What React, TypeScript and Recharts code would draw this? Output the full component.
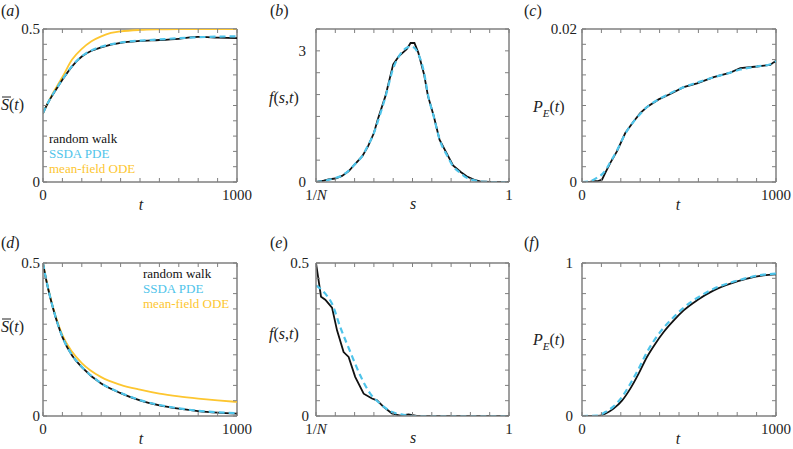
import { LineChart, Line, XAxis, YAxis, ReferenceLine } from 'recharts';

const BLACK = '#111111';
const CYAN = '#4fc4ea';
const GOLD = '#fdc630';
const FRAME = '#7f7f7f';
const SERIF = "Liberation Serif, Tinos, Times New Roman, DejaVu Serif, serif";

// tick positions and labels
const tTicks = [0, 100, 200, 300, 400, 500, 600, 700, 800, 900, 1000];
const tTickLabels = ['0', '', '', '', '', '', '', '', '', '', '1000'];
const sTicks = [0, 0.1, 0.2, 0.3, 0.4, 0.5, 0.6, 0.7, 0.8, 0.9, 1];
const sTickLabels = ['1/N', '', '', '', '', '', '', '', '', '', '1'];
const halfTicks = [0, 0.05, 0.1, 0.15, 0.2, 0.25, 0.3, 0.35, 0.4, 0.45, 0.5];
const halfTickLabels = ['0', '', '', '', '', '', '', '', '', '', '0.5'];
const fbTicks = [0, 0.5, 1, 1.5, 2, 2.5, 3, 3.5];
const fbTickLabels = ['0', '', '', '', '', '', '3', ''];
const pcTicks = [0, 0.002, 0.004, 0.006, 0.008, 0.01, 0.012, 0.014, 0.016, 0.018, 0.02];
const pcTickLabels = ['0', '', '', '', '', '', '', '', '', '', '0.02'];
const oneTicks = [0, 0.1, 0.2, 0.3, 0.4, 0.5, 0.6, 0.7, 0.8, 0.9, 1];
const oneTickLabels = ['0', '', '', '', '', '', '', '', '', '', '1'];

// (a) mean size, growth
const tA = [0, 25, 50, 75, 100, 150, 200, 250, 300, 350, 400, 500, 600, 700, 800, 900, 1000];
const walkA = [0.225, 0.258, 0.285, 0.31, 0.334, 0.378, 0.41, 0.429, 0.44, 0.449, 0.455, 0.461, 0.464, 0.468, 0.474, 0.472, 0.47];
const pdeA = [0.225, 0.258, 0.286, 0.311, 0.335, 0.379, 0.411, 0.43, 0.442, 0.45, 0.456, 0.462, 0.466, 0.47, 0.473, 0.475, 0.476];
const odeA = [0.225, 0.259, 0.289, 0.316, 0.343, 0.4, 0.435, 0.46, 0.476, 0.487, 0.492, 0.497, 0.499, 0.5, 0.5, 0.5, 0.5];

// (b) size distribution
const sB = [0, 0.04, 0.065, 0.1, 0.135, 0.17, 0.2, 0.24, 0.27, 0.3, 0.32, 0.36, 0.4, 0.43, 0.45, 0.47, 0.49, 0.51, 0.53, 0.56, 0.58, 0.61, 0.64, 0.68, 0.71, 0.75, 0.78, 0.82, 0.85, 0.9, 1];
const walkB = [0, 0.03, 0.06, 0.08, 0.14, 0.25, 0.4, 0.59, 0.82, 1.12, 1.43, 1.97, 2.69, 2.88, 2.96, 3.04, 3.18, 3.18, 2.96, 2.46, 1.97, 1.51, 0.97, 0.63, 0.38, 0.23, 0.13, 0.05, 0.015, 0, 0];
const pdeB = [0, 0.02, 0.05, 0.09, 0.15, 0.26, 0.4, 0.6, 0.84, 1.12, 1.38, 1.95, 2.6, 2.88, 3.0, 3.07, 3.1, 3.07, 2.93, 2.5, 2.0, 1.5, 0.98, 0.6, 0.36, 0.2, 0.1, 0.04, 0.01, 0, 0];

// (c) extinction probability
const tC = [0, 40, 60, 80, 103, 120, 146, 180, 223, 266, 300, 335, 395, 455, 524, 593, 679, 765, 816, 902, 971, 985, 1000];
const walkC = [0, 0, 0.0001, 0.0001, 0.0003, 0.0012, 0.0025, 0.004, 0.0064, 0.0079, 0.009, 0.0098, 0.0108, 0.0115, 0.0124, 0.0129, 0.0137, 0.0143, 0.0149, 0.0151, 0.0153, 0.0156, 0.0158];
const pdeC = [0, 0.0001, 0.0003, 0.0006, 0.001, 0.0015, 0.0026, 0.0041, 0.0063, 0.0079, 0.0089, 0.0098, 0.0108, 0.0116, 0.0124, 0.013, 0.0137, 0.0143, 0.0147, 0.0151, 0.0154, 0.0156, 0.0158];

// (d) mean size, decay
const tD = [0, 10, 25, 50, 75, 100, 150, 200, 300, 400, 500, 600, 700, 800, 900, 1000];
const walkD = [0.5, 0.465, 0.42, 0.356, 0.302, 0.258, 0.198, 0.16, 0.106, 0.075, 0.051, 0.035, 0.024, 0.016, 0.011, 0.008];
const pdeD = [0.5, 0.466, 0.421, 0.357, 0.303, 0.259, 0.199, 0.161, 0.107, 0.076, 0.052, 0.036, 0.025, 0.017, 0.012, 0.009];
const odeD = [0.5, 0.466, 0.422, 0.359, 0.307, 0.264, 0.21, 0.173, 0.127, 0.102, 0.086, 0.073, 0.064, 0.057, 0.051, 0.046];

// (e) size distribution, decay
const sEwalk = [0, 0.026, 0.048, 0.083, 0.109, 0.143, 0.169, 0.203, 0.247, 0.29, 0.316, 0.35, 0.393, 0.436, 0.479, 0.522, 1];
const walkE = [0.5, 0.39, 0.38, 0.354, 0.28, 0.209, 0.193, 0.128, 0.073, 0.057, 0.051, 0.03, 0.008, 0.001, 0.005, 0, 0];
const sEpde = [0, 0.048, 0.083, 0.126, 0.178, 0.229, 0.281, 0.333, 0.384, 0.453, 0.52, 1];
const pdeE = [0.427, 0.4, 0.367, 0.29, 0.209, 0.133, 0.073, 0.04, 0.016, 0.004, 0, 0];

// (f) extinction probability, decay
const tF = [0, 77, 120, 163, 206, 249, 292, 335, 378, 421, 473, 524, 593, 679, 765, 851, 936, 1000];
const walkF = [0, 0, 0.015, 0.048, 0.1, 0.179, 0.277, 0.386, 0.473, 0.549, 0.625, 0.69, 0.756, 0.821, 0.865, 0.898, 0.919, 0.926];
const pdeF = [0, 0.002, 0.026, 0.063, 0.124, 0.211, 0.309, 0.418, 0.505, 0.577, 0.647, 0.708, 0.771, 0.832, 0.871, 0.902, 0.924, 0.93];

const zip = (xs: number[], ys: number[]) => xs.map((x, i) => ({ x, y: ys[i] }));

type Series = { data: { x: number; y: number }[]; color: string; dashed?: boolean; smooth?: boolean };

const AX_H = 30; // height reserved for the x axis
const AX_W = 30; // width reserved for the y axis

function labelFor(v: number, ticks: number[], labels: string[]) {
  const i = ticks.findIndex((t) => Math.abs(t - v) < 1e-9);
  return i >= 0 ? labels[i] : '';
}

function BottomTick(p: any) {
  const { x, y, payload, plotH, ticks, labels } = p;
  const lab = labelFor(payload.value, ticks, labels);
  return (
    <g>
      <line x1={x} y1={y} x2={x} y2={y - 4} stroke={FRAME} strokeWidth={1} />
      <line x1={x} y1={y - plotH} x2={x} y2={y - plotH + 4} stroke={FRAME} strokeWidth={1} />
      {lab && (
        <text x={x} y={y + 18} textAnchor="middle" style={{ fontFamily: SERIF, fontSize: 15 }} fill="#222">
          {lab === '1/N' ? (<><tspan>1/</tspan><tspan fontStyle="italic">N</tspan></>) : lab}
        </text>
      )}
    </g>
  );
}

function LeftTick(p: any) {
  const { x, y, payload, plotW, ticks, labels, gap } = p;
  const lab = labelFor(payload.value, ticks, labels);
  return (
    <g>
      <line x1={x} y1={y} x2={x + 4} y2={y} stroke={FRAME} strokeWidth={1} />
      <line x1={x + plotW} y1={y} x2={x + plotW - 4} y2={y} stroke={FRAME} strokeWidth={1} />
      {lab && (
        <text x={x - gap} y={y + 5} textAnchor="end" style={{ fontFamily: SERIF, fontSize: 15 }} fill="#222">{lab}</text>
      )}
    </g>
  );
}

function Panel(props: {
  left: number; top: number; width: number; height: number;
  plot: { x0: number; x1: number; y0: number; y1: number };
  xDomain: [number, number]; yDomain: [number, number];
  xTicks: number[]; xLabels: string[]; yTicks: number[]; yLabels: string[]; gap: number;
  series: Series[];
}) {
  const { left, top, width, height, plot, xDomain, yDomain, xTicks, xLabels, yTicks, yLabels, gap, series } = props;
  const margin = {
    left: plot.x0 - left - AX_W,
    right: left + width - plot.x1,
    top: plot.y0 - top,
    bottom: top + height - plot.y1 - AX_H,
  };
  const plotW = plot.x1 - plot.x0;
  const plotH = plot.y1 - plot.y0;
  return (
    <div style={{ position: 'absolute', left, top }}>
      <LineChart width={width} height={height} margin={margin}>
        <XAxis type="number" dataKey="x" domain={xDomain} ticks={xTicks} interval={0} allowDataOverflow
          height={AX_H} tickSize={0} tickMargin={0} tickLine={false}
          axisLine={{ stroke: FRAME, strokeWidth: 1.5 }}
          tick={(p: any) => <BottomTick {...p} plotH={plotH} ticks={xTicks} labels={xLabels} />} />
        <YAxis type="number" domain={yDomain} ticks={yTicks} interval={0} allowDataOverflow
          width={AX_W} tickSize={0} tickMargin={0} tickLine={false}
          axisLine={{ stroke: FRAME, strokeWidth: 1.5 }}
          tick={(p: any) => <LeftTick {...p} plotW={plotW} ticks={yTicks} labels={yLabels} gap={gap} />} />
        <ReferenceLine y={yDomain[1]} stroke={FRAME} strokeWidth={1.5} />
        <ReferenceLine x={xDomain[1]} stroke={FRAME} strokeWidth={1.5} />
        {series.map((s, i) => (
          <Line key={i} data={s.data} dataKey="y" type={s.smooth ? 'monotone' : 'linear'}
            stroke={s.color} strokeWidth={s.dashed ? 2.2 : 1.8}
            strokeDasharray={s.dashed ? '6 4' : undefined}
            dot={false} activeDot={false} isAnimationActive={false} />
        ))}
      </LineChart>
    </div>
  );
}

const row1 = { y0: 29, y1: 182 };
const row2 = { y0: 263, y1: 416 };

function Overlay() {
  const t = (x: number, y: number, s: string) => (
    <text x={x} y={y} textAnchor="middle" fontStyle="italic" fontSize={16}>{s}</text>
  );
  const panelLabel = (x: number, y: number, c: string) => (
    <text x={x} y={y} fontSize={16}>(<tspan fontStyle="italic">{c}</tspan>)</text>
  );
  const sbar = (y: number) => (
    <g>
      <text x={1} y={y} fontSize={16}><tspan fontStyle="italic">S</tspan>(<tspan fontStyle="italic">t</tspan>)</text>
      <line x1={2} x2={11} y1={y - 13} y2={y - 13} stroke="#222" strokeWidth={1} />
    </g>
  );
  const fst = (y: number) => (
    <text x={269} y={y} fontSize={16}><tspan fontStyle="italic">f</tspan>(<tspan fontStyle="italic">s</tspan>,<tspan fontStyle="italic">t</tspan>)</text>
  );
  const pe = (y: number) => (
    <text x={533} y={y} fontSize={16}>
      <tspan fontStyle="italic">P</tspan>
      <tspan fontStyle="italic" fontSize={11} dy={5}>E</tspan>
      <tspan dy={-5}>(</tspan><tspan fontStyle="italic">t</tspan>)
    </text>
  );
  const legend = (x: number, y: number) => (
    <g fontSize={13}>
      <text x={x} y={y} fill={BLACK}>random walk</text>
      <text x={x} y={y + 15} fill={CYAN}>SSDA PDE</text>
      <text x={x} y={y + 30} fill={GOLD}>mean-field ODE</text>
    </g>
  );
  return (
    <svg width={793} height={449} style={{ position: 'absolute', left: 0, top: 0, pointerEvents: 'none', fontFamily: SERIF }}
      fill="#222">
      {panelLabel(1, 16, 'a')}
      {panelLabel(270, 16, 'b')}
      {panelLabel(524, 16, 'c')}
      {panelLabel(1, 248, 'd')}
      {panelLabel(270, 248, 'e')}
      {panelLabel(524, 248, 'f')}
      {sbar(110)}
      {sbar(332)}
      {fst(103)}
      {fst(339)}
      {pe(112)}
      {pe(345)}
      {t(141, 210, 't')}
      {t(413, 209, 's')}
      {t(678, 210, 't')}
      {t(141, 444, 't')}
      {t(413, 443, 's')}
      {t(678, 444, 't')}
      {legend(49, 143)}
      {legend(143, 278)}
    </svg>
  );
}

export default function App() {
  return (
    <div style={{ position: 'absolute', left: 0, top: 0, width: 793, height: 449, background: '#fff', overflow: 'hidden', fontFamily: SERIF }}>
      <Panel left={0} top={0} width={262} height={220} plot={{ x0: 43, x1: 237, ...row1 }}
        xDomain={[0, 1000]} yDomain={[0, 0.5]} xTicks={tTicks} xLabels={tTickLabels}
        yTicks={halfTicks} yLabels={halfTickLabels} gap={3}
        series={[
          { data: zip(tA, odeA), color: GOLD, smooth: true },
          { data: zip(tA, walkA), color: BLACK, smooth: true },
          { data: zip(tA, pdeA), color: CYAN, dashed: true, smooth: true },
        ]} />
      <Panel left={262} top={0} width={262} height={220} plot={{ x0: 316, x1: 509, ...row1 }}
        xDomain={[0, 1]} yDomain={[0, 3.5]} xTicks={sTicks} xLabels={sTickLabels}
        yTicks={fbTicks} yLabels={fbTickLabels} gap={10}
        series={[
          { data: zip(sB, walkB), color: BLACK },
          { data: zip(sB, pdeB), color: CYAN, dashed: true, smooth: true },
        ]} />
      <Panel left={528} top={0} width={265} height={220} plot={{ x0: 582, x1: 776, ...row1 }}
        xDomain={[0, 1000]} yDomain={[0, 0.02]} xTicks={tTicks} xLabels={tTickLabels}
        yTicks={pcTicks} yLabels={pcTickLabels} gap={5}
        series={[
          { data: zip(tC, walkC), color: BLACK },
          { data: zip(tC, pdeC), color: CYAN, dashed: true, smooth: true },
        ]} />
      <Panel left={0} top={220} width={262} height={229} plot={{ x0: 43, x1: 237, ...row2 }}
        xDomain={[0, 1000]} yDomain={[0, 0.5]} xTicks={tTicks} xLabels={tTickLabels}
        yTicks={halfTicks} yLabels={halfTickLabels} gap={3}
        series={[
          { data: zip(tD, odeD), color: GOLD, smooth: true },
          { data: zip(tD, walkD), color: BLACK, smooth: true },
          { data: zip(tD, pdeD), color: CYAN, dashed: true, smooth: true },
        ]} />
      <Panel left={262} top={220} width={262} height={229} plot={{ x0: 316, x1: 509, ...row2 }}
        xDomain={[0, 1]} yDomain={[0, 0.5]} xTicks={sTicks} xLabels={sTickLabels}
        yTicks={halfTicks} yLabels={halfTickLabels} gap={7}
        series={[
          { data: zip(sEwalk, walkE), color: BLACK },
          { data: zip(sEpde, pdeE), color: CYAN, dashed: true, smooth: true },
        ]} />
      <Panel left={528} top={220} width={265} height={229} plot={{ x0: 582, x1: 776, ...row2 }}
        xDomain={[0, 1000]} yDomain={[0, 1]} xTicks={tTicks} xLabels={tTickLabels}
        yTicks={oneTicks} yLabels={oneTickLabels} gap={9}
        series={[
          { data: zip(tF, walkF), color: BLACK, smooth: true },
          { data: zip(tF, pdeF), color: CYAN, dashed: true, smooth: true },
        ]} />
      <Overlay />
    </div>
  );
}
